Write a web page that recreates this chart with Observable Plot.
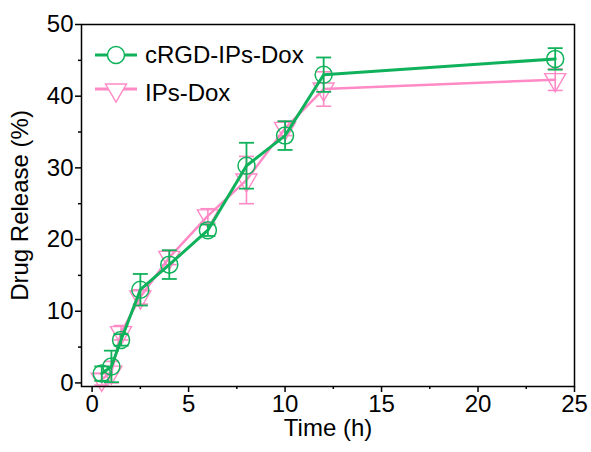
<!DOCTYPE html>
<html><head><meta charset="utf-8">
<script src="https://cdn.jsdelivr.net/npm/d3@7"></script>
<script src="https://cdn.jsdelivr.net/npm/@observablehq/plot@0.6"></script>
<style>
body{margin:0;background:#fff;font-family:Arial,"Liberation Sans",sans-serif;}
#wrap{position:relative;width:591px;height:452px;}
#legend{position:absolute;left:95px;top:36px;font-size:24px;color:#000;}
#legend .row{display:flex;align-items:center;height:38px;}
#legend svg{margin-right:8px;}
</style></head><body>
<div id="wrap"><div id="legend"></div></div>
<script>
const times = [0.5, 1, 1.5, 2.5, 4, 6, 8, 10, 12, 24];
const crgd = [1.3, 2.3, 6.0, 13.0, 16.5, 21.3, 30.3, 34.5, 43.0, 45.2];
const crgdErr = [1.0, 2.2, 0.8, 2.2, 2.0, 0.8, 3.2, 2.0, 2.4, 1.5];
const ips = [0.5, 1.5, 7.0, 12.0, 17.5, 23.3, 28.3, 35.5, 41.0, 42.3];
const ipsErr = [0.8, 1.5, 1.0, 1.0, 1.0, 1.0, 3.3, 1.0, 2.4, 1.5];
const seriesNames = ["cRGD-IPs-Dox", "IPs-Dox"];
const green = "#0fb25a", pink = "#ff8ac6";

const rowsC = times.map((t,i)=>({t, y: crgd[i], e: crgdErr[i]}));
const rowsI = times.map((t,i)=>({t, y: ips[i], e: ipsErr[i]}));

const capSymbol = {draw(ctx, size){const w=Math.sqrt(size/Math.PI); ctx.moveTo(-w,0); ctx.lineTo(w,0);}};

function errMarks(rows, color, sw){
  return [
    Plot.ruleX(rows, {x:"t", y1:d=>d.y-d.e, y2:d=>d.y+d.e, stroke:color, strokeWidth:sw}),
    Plot.dot(rows, {x:"t", y:d=>d.y+d.e, symbol:capSymbol, r:7.5, stroke:color, strokeWidth:sw}),
    Plot.dot(rows, {x:"t", y:d=>d.y-d.e, symbol:capSymbol, r:7.5, stroke:color, strokeWidth:sw})
  ];
}

const plot = Plot.plot({
  width:591, height:452,
  marginLeft:81, marginRight:17, marginTop:24, marginBottom:66,
  style:{fontFamily:"Arial, 'Liberation Sans', sans-serif", fontSize:"24px", color:"#000", background:"#fff"},
  x:{domain:[-0.55,25]},
  y:{domain:[-0.5,50]},
  marks:[
    Plot.axisX({ticks:d3.range(0,26,5), tickSize:6, tickPadding:2, label:null, fontSize:24, strokeWidth:1.5}),
    Plot.axisX({ticks:d3.range(2.5,25,5), tickSize:3, text:null, label:null, strokeWidth:1.5}),
    Plot.axisY({ticks:d3.range(0,51,10), tickSize:6, tickPadding:2, fontSize:24, strokeWidth:1.5,
      label:"Drug Release (%)", labelAnchor:"center", labelArrow:"none", labelOffset:71}),
    Plot.axisY({ticks:d3.range(5,50,10), tickSize:3, text:null, label:null, strokeWidth:1.5}),
    Plot.text(["Time (h)"], {frameAnchor:"bottom", dy:49, fontSize:24}),
    ...errMarks(rowsI, pink, 1.6),
    Plot.line(rowsI, {x:"t", y:"y", stroke:pink, strokeWidth:2.5}),
    Plot.dot(rowsI, {x:"t", y:"y", symbol:"triangle", rotate:180, r:7.8, stroke:pink, strokeWidth:1.4, fill:"none"}),
    ...errMarks(rowsC, green, 1.8),
    Plot.line(rowsC, {x:"t", y:"y", stroke:green, strokeWidth:3}),
    Plot.dot(rowsC, {x:"t", y:"y", symbol:"circle", r:8.5, stroke:green, strokeWidth:1.5, fill:"none"}),
    Plot.frame({stroke:"#000", strokeWidth:1.5})
  ]
});
document.getElementById("wrap").prepend(plot);

const legend = document.getElementById("legend");
const keys = [
  `<svg width="42" height="24"><line x1="0" y1="12" x2="42" y2="12" stroke="${green}" stroke-width="3"/><circle cx="21" cy="12" r="8.5" fill="#fff" stroke="${green}" stroke-width="1.5"/></svg>`,
  `<svg width="42" height="24"><line x1="0" y1="8" x2="42" y2="8" stroke="${pink}" stroke-width="3"/><path d="M10.5,3 L31.5,3 L21,21 Z" fill="#fff" stroke="${pink}" stroke-width="1.4"/></svg>`
];
seriesNames.forEach((n,i)=>{
  const row=document.createElement("div"); row.className="row";
  row.innerHTML = keys[i] + `<span>${n}</span>`;
  legend.appendChild(row);
});
</script>
</body></html>
